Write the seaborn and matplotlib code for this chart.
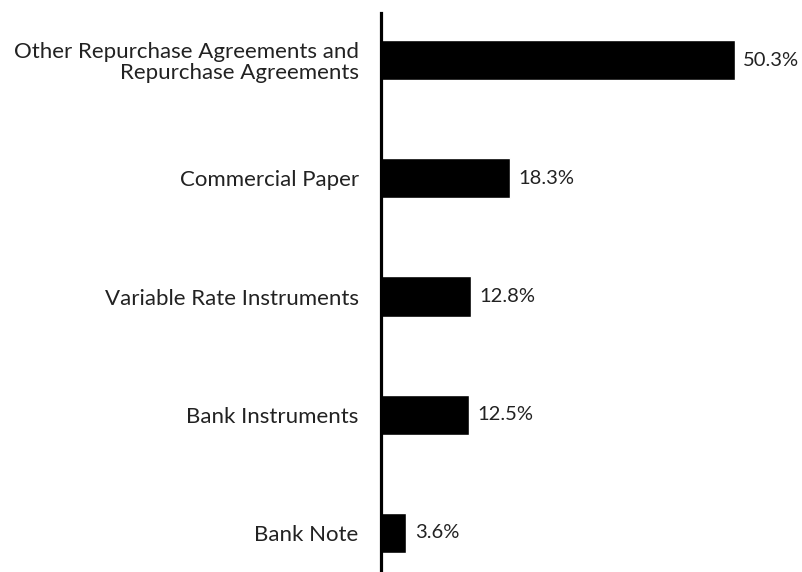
import matplotlib
matplotlib.use('Agg')
import matplotlib.pyplot as plt
import seaborn as sns
import pandas as pd

# 데이터
categories = ['Other Repurchase Agreements and\nRepurchase Agreements',
              'Commercial Paper',
              'Variable Rate Instruments',
              'Bank Instruments',
              'Bank Note']
values = [50.3, 18.3, 12.8, 12.5, 3.6]
value_labels = ['50.3%', '18.3%', '12.8%', '12.5%', '3.6%']

df = pd.DataFrame({'category': categories, 'value': values})

sns.set_style('white')
plt.rcParams['font.family'] = ['Lato', 'DejaVu Sans']

fig = plt.figure(figsize=(8.02, 5.72), dpi=100)
ax = fig.add_axes([0.475, 0.0, 0.525, 0.977])

sns.barplot(data=df, x='value', y='category', orient='h', color='black',
            width=0.34, saturation=1, ax=ax)

for i, (v, lab) in enumerate(zip(values, value_labels)):
    ax.text(v + 1.2, i, lab, va='center', ha='left', fontsize=14.5,
            color='#222222')

ax.set_xlim(0, 59.9)
ax.set_ylim(4.33, -0.397)
ax.set_xlabel('')
ax.set_ylabel('')
ax.set_xticks([])
ax.tick_params(axis='y', length=0, pad=16, labelsize=16, labelcolor='#222222')
for lab in ax.get_yticklabels():
    lab.set_linespacing(1.05)

for s in ['top', 'right', 'bottom']:
    ax.spines[s].set_visible(False)
ax.spines['left'].set_linewidth(2.3)
ax.spines['left'].set_color('black')

fig.savefig('out.png', dpi=100)
